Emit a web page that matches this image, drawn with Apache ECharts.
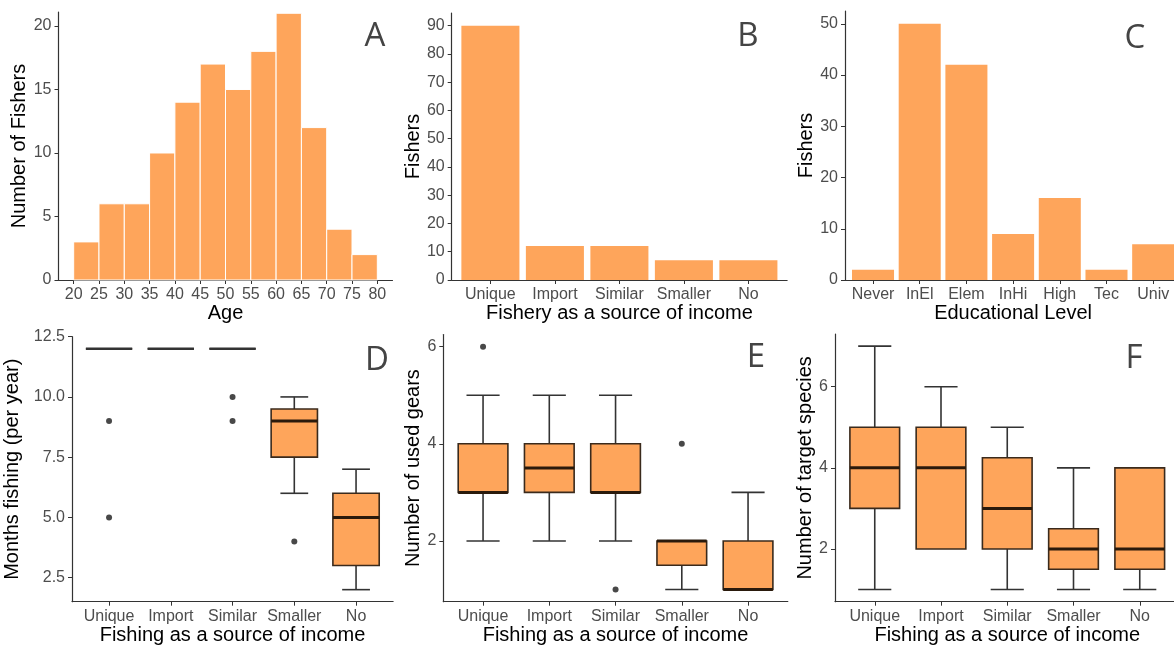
<!DOCTYPE html>
<html><head><meta charset="utf-8">
<script src="https://cdn.jsdelivr.net/npm/echarts@6/dist/echarts.min.js"></script>
<style>html,body{margin:0;padding:0;background:#fff}#c{width:1174px;height:646px}</style>
</head><body><div id="c"></div>
<script>
// ---------- data ----------
const ageEdges = [20,25,30,35,40,45,50,55,60,65,70,75,80];
const ageCounts = [3,6,6,10,14,17,15,18,21,12,4,2];
const ageXTicks = [20,25,30,35,40,45,50,55,60,65,70,75,80];
const ageYTicks = [0,5,10,15,20];

const incomeCats = ['Unique','Import','Similar','Smaller','No'];
const incomeFishers = [90,12,12,7,7];
const incomeYTicks = [0,10,20,30,40,50,60,70,80,90];

const eduCats = ['Never','InEl','Elem','InHi','High','Tec','Univ'];
const eduFishers = [2,50,42,9,16,2,7];
const eduYTicks = [0,10,20,30,40,50];

// boxplots: [low whisker, Q1, median, Q3, high whisker]
const monthsBox = [[12,12,12,12,12],[12,12,12,12,12],[12,12,12,12,12],[6,7.5,9,9.5,10],[2,3,5,6,7]];
const monthsOutliers = [[1,9],[1,5],[3,10],[3,9],[4,4]];
const monthsYTicks = [2.5,5,7.5,10,12.5];

const gearsBox = [[2,3,3,4,5],[2,3,3.5,4,5],[2,3,3,4,5],[1,1.5,2,2,2],[1,1,1,2,3]];
const gearsOutliers = [[1,6],[3,1],[4,4]];
const gearsYTicks = [2,4,6];

const speciesBox = [[1,3,4,5,7],[2,2,4,5,6],[1,2,3,4.25,5],[1,1.5,2,2.5,4],[1,1.5,2,4,4]];
const speciesOutliers = [];
const speciesYTicks = [2,4,6];

const catTicks5 = [1,2,3,4,5];
const catTicks7 = [1,2,3,4,5,6,7];

// ---------- style ----------
const ORANGE = '#FEA55B';
const FONT = 'Liberation Sans, Arial, sans-serif';
const AXIS = '#333333';

function xAxis(gi, min, max, ticks, fmt, name, gap) {
  return {
    type: 'value', gridIndex: gi, min, max,
    axisLine: {show: true, onZero: false, lineStyle: {color: AXIS, width: 1.2}},
    axisTick: {show: true, length: 4, customValues: ticks, lineStyle: {color: AXIS}},
    axisLabel: {customValues: ticks, formatter: fmt, color: '#4d4d4d', fontSize: 16, margin: 6.5, fontFamily: FONT},
    splitLine: {show: false},
    name, nameLocation: 'middle', nameGap: gap,
    nameTextStyle: {color: '#000', fontSize: 20, fontFamily: FONT}
  };
}
function yAxis(gi, min, max, ticks, fmt, name, gap) {
  return {
    type: 'value', gridIndex: gi, min, max,
    axisLine: {show: true, onZero: false, lineStyle: {color: AXIS, width: 1.2}},
    axisTick: {show: true, length: 4, customValues: ticks, lineStyle: {color: AXIS}},
    axisLabel: {customValues: ticks, formatter: fmt, color: '#4d4d4d', fontSize: 16, margin: 7, fontFamily: FONT},
    splitLine: {show: false},
    name, nameLocation: 'middle', nameGap: gap, nameRotate: 90,
    nameTextStyle: {color: '#000', fontSize: 20, fontFamily: FONT}
  };
}
const catFmt = cats => v => cats[Math.round(v) - 1] || '';
const num = v => String(v);

function histItem(params, api) {
  const p0 = api.coord([api.value(0), api.value(2)]);
  const p1 = api.coord([api.value(1), 0]);
  return {type: 'rect', shape: {x: p0[0], y: p0[1], width: p1[0] - p0[0], height: p1[1] - p0[1]},
    style: {fill: ORANGE, stroke: '#ffffff', lineWidth: 1}};
}
function barItem(params, api) {
  const band = api.size([1, 0])[0];
  const top = api.coord([api.value(0), api.value(1)]);
  const base = api.coord([api.value(0), 0]);
  const w = band * 0.9;
  return {type: 'rect', shape: {x: top[0] - w / 2, y: top[1], width: w, height: base[1] - top[1]},
    style: {fill: ORANGE}};
}
function boxItemFactory(capFrac) {
  return function (params, api) {
    const x = api.value(0);
    const band = api.size([1, 0])[0];
    const vals = [1,2,3,4,5].map(i => api.value(i));
    const ys = vals.map(v => api.coord([x, v])[1]);
    const cx = api.coord([x, vals[2]])[0];
    const bw = band * 0.75, cw = band * capFrac;
    const wl = {stroke: '#333333', lineWidth: 1.6};
    const children = [];
    if (vals[0] < vals[1]) {
      children.push({type: 'line', shape: {x1: cx, y1: ys[1], x2: cx, y2: ys[0]}, style: wl});
      children.push({type: 'line', shape: {x1: cx - cw / 2, y1: ys[0], x2: cx + cw / 2, y2: ys[0]}, style: wl});
    }
    if (vals[4] > vals[3]) {
      children.push({type: 'line', shape: {x1: cx, y1: ys[3], x2: cx, y2: ys[4]}, style: wl});
      children.push({type: 'line', shape: {x1: cx - cw / 2, y1: ys[4], x2: cx + cw / 2, y2: ys[4]}, style: wl});
    }
    const collapsed = vals[1] === vals[3];
    children.push({type: 'rect', shape: {x: cx - bw / 2, y: ys[3], width: bw, height: ys[1] - ys[3]},
      style: {fill: ORANGE, stroke: '#3a2a1c', lineWidth: 1.6}});
    children.push({type: 'line', shape: {x1: cx - bw / 2, y1: ys[2], x2: cx + bw / 2, y2: ys[2]},
      style: {stroke: collapsed ? '#333333' : '#2a1a0c', lineWidth: collapsed ? 2.4 : 3}});
    return {type: 'group', children};
  };
}
const boxData = arr => arr.map((b, i) => [i + 1].concat(b));
const outlierSeries = (idx, data) => ({type: 'scatter', xAxisIndex: idx, yAxisIndex: idx, data,
  symbol: 'circle', symbolSize: 6, itemStyle: {color: '#1a1a1a'}, z: 5, silent: true});

const grids = [
  {left: 58.5, top: 12, width: 334, height: 268},
  {left: 451.7, top: 13, width: 335.4, height: 267},
  {left: 845, top: 11, width: 336.2, height: 269},
  {left: 72, top: 336.7, width: 321.1, height: 265},
  {left: 443.3, top: 334.5, width: 344.5, height: 267.2},
  {left: 835, top: 334, width: 344.5, height: 267.7}
].map(g => Object.assign({outerBoundsMode: 'none', containLabel: false}, g));

function letter(t, x, y) {
  return {type: 'text', x, y, style: {text: t, fontSize: 33, fontFamily: 'Open Sans, sans-serif',
    fill: '#444444', textAlign: 'center', textVerticalAlign: 'middle'}};
}

const option = {
  animation: false,
  backgroundColor: '#ffffff',
  grid: grids,
  xAxis: [
    xAxis(0, 17, 83, ageXTicks, num, 'Age', 21),
    xAxis(1, 0.4, 5.6, catTicks5, catFmt(incomeCats), 'Fishery as a source of income', 18),
    xAxis(2, 0.4, 7.6, catTicks7, catFmt(eduCats), 'Educational Level', 21),
    xAxis(3, 0.4, 5.6, catTicks5, catFmt(incomeCats), 'Fishing as a source of income', 20),
    xAxis(4, 0.4, 5.6, catTicks5, catFmt(incomeCats), 'Fishing as a source of income', 16),
    xAxis(5, 0.4, 5.6, catTicks5, catFmt(incomeCats), 'Fishing as a source of income', 16)
  ],
  yAxis: [
    yAxis(0, 0, 21.1, ageYTicks, num, 'Number of Fishers', 25),
    yAxis(1, 0, 94.5, incomeYTicks, num, 'Fishers', 23),
    yAxis(2, 0, 52.5, eduYTicks, num, 'Fishers', 25),
    yAxis(3, 1.5, 12.5, monthsYTicks, v => v.toFixed(1), 'Months fishing (per year)', 50),
    yAxis(4, 0.75, 6.25, gearsYTicks, num, 'Number of used gears', 19),
    yAxis(5, 0.7, 7.3, speciesYTicks, num, 'Number of target species', 18)
  ],
  series: [
    {type: 'custom', xAxisIndex: 0, yAxisIndex: 0, renderItem: histItem,
      data: ageCounts.map((c, i) => [ageEdges[i], ageEdges[i + 1], c]), encode: {x: [0, 1], y: 2}},
    {type: 'custom', xAxisIndex: 1, yAxisIndex: 1, renderItem: barItem,
      data: incomeFishers.map((v, i) => [i + 1, v]), encode: {x: 0, y: 1}},
    {type: 'custom', xAxisIndex: 2, yAxisIndex: 2, renderItem: barItem,
      data: eduFishers.map((v, i) => [i + 1, v]), encode: {x: 0, y: 1}},
    {type: 'custom', xAxisIndex: 3, yAxisIndex: 3, renderItem: boxItemFactory(0.45),
      data: boxData(monthsBox), encode: {x: 0, y: [1, 2, 3, 4, 5]}},
    outlierSeries(3, monthsOutliers),
    {type: 'custom', xAxisIndex: 4, yAxisIndex: 4, renderItem: boxItemFactory(0.5),
      data: boxData(gearsBox), encode: {x: 0, y: [1, 2, 3, 4, 5]}},
    outlierSeries(4, gearsOutliers),
    {type: 'custom', xAxisIndex: 5, yAxisIndex: 5, renderItem: boxItemFactory(0.5),
      data: boxData(speciesBox), encode: {x: 0, y: [1, 2, 3, 4, 5]}},
    outlierSeries(5, speciesOutliers)
  ],
  graphic: [
    letter('A', 375, 37), letter('B', 748, 37), letter('C', 1135, 39),
    letter('D', 377, 361), letter('E', 756, 358), letter('F', 1134, 359)
  ]
};
const chart = echarts.init(document.getElementById('c'), null, {renderer: 'canvas'});
chart.setOption(option);
</script></body></html>
